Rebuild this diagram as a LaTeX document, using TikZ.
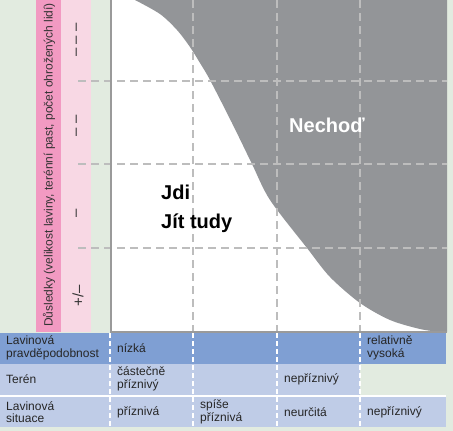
\documentclass[tikz,border=0pt]{standalone}
\usepackage{fontspec}
\setmainfont{Liberation Sans}
\usepackage{tikz}
\usetikzlibrary{positioning}

\definecolor{bggreen}{HTML}{E2EBE0}
\definecolor{pinkdark}{HTML}{F29AC2}
\definecolor{pinklight}{HTML}{F8D8E4}
\definecolor{riskgrey}{HTML}{939598}
\definecolor{axisgrey}{HTML}{9A9A9A}
\definecolor{gridgrey}{HTML}{BDBDBD}
\definecolor{bluedark}{HTML}{7F9FD3}
\definecolor{bluelight}{HTML}{BFCCE7}

\tikzset{
  gridline/.style={gridgrey, line width=1.5pt, dash pattern=on 8pt off 5pt},
  tabline/.style={white, line width=1.5pt, dash pattern=on 5pt off 3pt},
  celltext/.style={anchor=west, inner sep=0pt, align=left, text=black!85,
    font=\fontsize{12}{12.5}\selectfont},
  dashmark/.style={rotate=90, inner sep=0pt, text=black!80,
    font=\fontsize{15}{15}\selectfont},
}

\begin{document}
\begin{tikzpicture}[x=1pt,y=-1pt]

    \fill[bggreen] (0,0) rectangle (453,431);
    \useasboundingbox (0,0) rectangle (453,431);

    % left strips
    \fill[pinkdark] (36,0) rectangle (61,332);
    \fill[pinklight] (61,0) rectangle (91,332);

    % plot area
    \fill[white] (111,0) rectangle (447,332);
    \fill[riskgrey] plot[smooth] coordinates {(135,0) (160,14) (177,30) (190,47)
        (200,63) (210,80) (232,123) (252,164) (270,200) (307,248) (330,277)
        (360,303) (390,320) (420,329) (440,332)} -- (447,332) -- (447,0) -- cycle;

    \draw[gridline] (193,0) -- (193,332);
    \draw[gridline] (277,0) -- (277,332);
    \draw[gridline] (360,0) -- (360,332);
    \draw[gridline] (78,81) -- (447,81);
    \draw[gridline] (78,164) -- (447,164);
    \draw[gridline] (78,248) -- (447,248);

    \draw[axisgrey, line width=2pt] (110.5,0) -- (110.5,332) -- (447,332);

    \node[rotate=90, inner sep=0pt, text=black!80, font=\fontsize{12}{12}\selectfont] (dusledky) at (49,165)
        {Důsledky (velikost laviny, terénní past, počet ohrožených lidí)};
    \node[dashmark] (d3) at (78,40) {– – –};
    \node[dashmark] (d2) at (78,126) {– –};
    \node[dashmark] (d1) at (78,213) {–};
    \node[dashmark] (d0) at (78,296) {+/–};

    \node[anchor=base west, inner sep=0pt, text=white, font=\fontsize{20}{20}\selectfont\bfseries] (nechod) at (289,132) {Nechoď};
    \node[anchor=base west, inner sep=0pt, align=left, font=\fontsize{20}{29}\selectfont\bfseries] (jdi) at (161,228) {Jdi\\Jít tudy};

    % table
    \fill[bluedark] (0,333) rectangle (446,364);
    \fill[bluelight] (0,364) rectangle (360,395);
    \fill[bluelight] (0,397) rectangle (446,427);
    \draw[white, line width=1.5pt] (0,396) -- (446,396);
    \foreach \x in {110,193,277,360}
        \draw[tabline] (\x,333) -- (\x,427);

    \node[celltext] (lprob) at (6,348) {Lavinová\\pravděpodobnost};
    \node[celltext] (lteren) at (6,379) {Terén};
    \node[celltext] (lsit) at (6,412) {Lavinová\\situace};

    \node[celltext] (nizka) at (117,348) {nízká};
    \node[celltext] (vysoka) at (367,348) {relativně\\vysoká};
    \node[celltext] (castecne) at (117,379) {částečně\\příznivý};
    \node[celltext] (nepriznivy) at (284,379) {nepříznivý};
    \node[celltext] (priznivaa) at (117,412) {příznivá};
    \node[celltext] (spise) at (200,412) {spíše\\příznivá};
    \node[celltext] (neurcita) at (284,412) {neurčitá};
    \node[celltext] (nepriznivyb) at (367,412) {nepříznivý};
\end{tikzpicture}
\end{document}
